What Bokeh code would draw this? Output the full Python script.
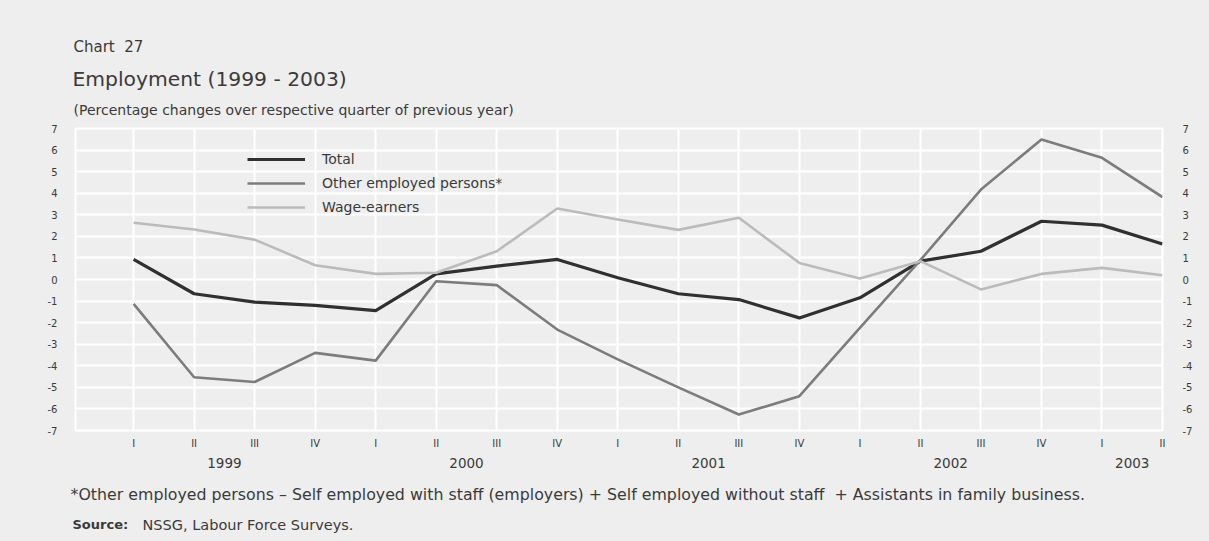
from bokeh.plotting import figure
from bokeh.layouts import column
from bokeh.models import (Range1d, LinearAxis, FixedTicker, Legend, LegendItem,
                          Grid, ColumnDataSource)
from bokeh.core.properties import value
from bokeh.embed import file_html
from bokeh.resources import INLINE

# ---- data ----
quarter_labels = ["I", "II", "III", "IV"] * 4 + ["I", "II"]
year_labels = ["1999", "2000", "2001", "2002", "2003"]
year_positions = [1.5, 5.5, 9.5, 13.5, 16.5]
y_ticks = list(range(-7, 8))
y_tick_labels = [str(v) for v in y_ticks]

total = [0.93, -0.66, -1.05, -1.2, -1.44, 0.26, 0.62, 0.93, 0.08,
         -0.66, -0.93, -1.78, -0.85, 0.85, 1.31, 2.7, 2.52, 1.65]
other = [-1.13, -4.53, -4.75, -3.4, -3.76, -0.08, -0.26, -2.32, -3.7,
         -5.0, -6.26, -5.41, -2.24, 0.9, 4.17, 6.49, 5.64, 3.82]
wage = [2.63, 2.32, 1.85, 0.66, 0.26, 0.31, 1.31, 3.29, 2.78,
        2.3, 2.86, 0.77, 0.05, 0.85, -0.46, 0.26, 0.54, 0.2]
xs = list(range(len(total)))

chart_no = "Chart\u00a0\u00a027"
title = "Employment (1999 - 2003)"
subtitle = "(Percentage changes over respective quarter of previous year)"
footnote = ("*Other employed persons \u2013 Self employed with staff (employers) + "
            "Self employed without staff\u00a0 + Assistants in family business.")
source_head = "Source:"
source_body = "NSSG, Labour Force Surveys."

BG = "#eeeeee"
FONT = "DejaVu Sans"
TXT = "#3a3a3a"

W = 1209
TOP_H, MAIN_H, BOT_H = 120, 360, 61
L, R, T, B = 75, 47, 8, 50
X0, X1 = -0.96, 17.0
Y0, Y1 = -7.0, 7.0


def text_panel(h):
    f = figure(width=W, height=h, x_range=Range1d(0, W), y_range=Range1d(h, 0),
               x_axis_type=None, y_axis_type=None, output_backend="svg",
               toolbar_location=None, min_border=0, frame_align=False)
    f.background_fill_color = BG
    f.border_fill_color = BG
    f.outline_line_color = None
    return f


def put(f, t, x, y, size, style="normal"):
    f.text(x=[x], y=[y], text=[t], text_font=value(FONT), text_font_size=value(size),
           text_color=TXT, text_baseline="middle", text_align="left",
           text_font_style=style)


top = text_panel(TOP_H)
put(top, chart_no, 73, 46, "15px")
put(top, title, 72, 78, "20.3px")
put(top, subtitle, 73, 109, "14px")

p = figure(width=W, height=MAIN_H, x_range=Range1d(X0, X1), y_range=Range1d(Y0, Y1),
           x_axis_type=None, y_axis_type=None, output_backend="svg",
           toolbar_location=None, min_border_left=L, min_border_right=R,
           min_border_top=T, min_border_bottom=B, frame_align=False)
p.background_fill_color = BG
p.border_fill_color = BG
p.outline_line_color = "white"
p.outline_line_width = 2

p.add_layout(Grid(dimension=0, ticker=FixedTicker(ticks=xs),
                  grid_line_color="white", grid_line_width=2))
p.add_layout(Grid(dimension=1, ticker=FixedTicker(ticks=y_ticks),
                  grid_line_color="white", grid_line_width=2))


def style_axis(ax, size):
    ax.axis_line_color = None
    ax.major_tick_line_color = None
    ax.minor_tick_line_color = None
    ax.major_label_text_font = FONT
    ax.major_label_text_font_size = size
    ax.major_label_text_color = TXT


for side, standoff in (("left", 12), ("right", 14)):
    ax = LinearAxis(ticker=FixedTicker(ticks=y_ticks),
                    major_label_overrides={v: s for v, s in zip(y_ticks, y_tick_labels)})
    style_axis(ax, "10px")
    ax.major_label_standoff = standoff
    p.add_layout(ax, side)

qax = LinearAxis(ticker=FixedTicker(ticks=xs),
                 major_label_overrides={i: q for i, q in enumerate(quarter_labels)})
style_axis(qax, "10px")
qax.major_label_standoff = 1
p.add_layout(qax, "below")

yax = LinearAxis(ticker=FixedTicker(ticks=year_positions),
                 major_label_overrides={pos: y for pos, y in zip(year_positions, year_labels)})
style_axis(yax, "13.5px")
yax.major_label_standoff = 0
p.add_layout(yax, "below")

src = ColumnDataSource(dict(x=xs, total=total, other=other, wage=wage))
r_total = p.line("x", "total", source=src, line_color="#303030", line_width=3.2, line_join="round")
r_other = p.line("x", "other", source=src, line_color="#7c7c7c", line_width=2.6, line_join="round")
r_wage = p.line("x", "wage", source=src, line_color="#bbbbbb", line_width=2.6, line_join="round")

legend = Legend(items=[LegendItem(label="Total", renderers=[r_total]),
                       LegendItem(label="Other employed persons*", renderers=[r_other]),
                       LegendItem(label="Wage-earners", renderers=[r_wage])],
                location=(172, 213), glyph_width=58, glyph_height=20, label_height=20,
                spacing=4, padding=0, margin=0, label_standoff=17,
                label_text_font=FONT, label_text_font_size="14px",
                label_text_color=TXT, background_fill_alpha=0, border_line_color=None)
p.add_layout(legend)

bot = text_panel(BOT_H)
put(bot, footnote, 70, 14, "15.8px")
put(bot, source_head, 72, 44, "13px", "bold")
put(bot, source_body, 142, 44, "14.5px")

layout = column(top, p, bot, spacing=0, styles={"background-color": BG})
open("out.html", "w").write(file_html(layout, INLINE))
